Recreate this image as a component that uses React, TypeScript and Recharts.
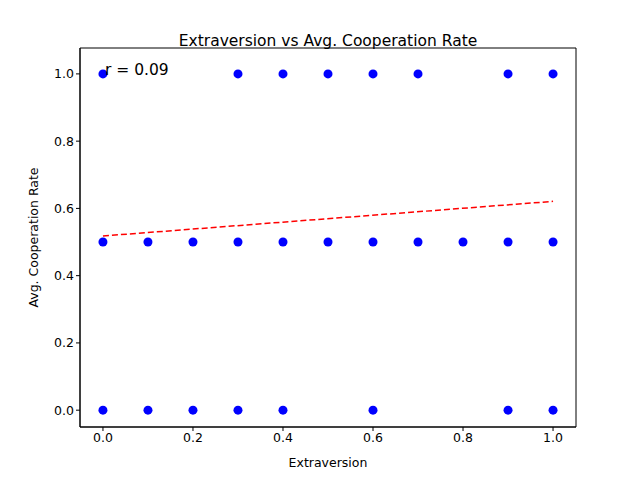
import React from 'react';
import { ComposedChart, Scatter, XAxis, YAxis, ReferenceLine, ReferenceArea, Label } from 'recharts';

const xHigh = [0, 0.3, 0.4, 0.5, 0.6, 0.7, 0.9, 1.0];
const xMid = [0, 0.1, 0.2, 0.3, 0.4, 0.5, 0.6, 0.7, 0.8, 0.9, 1.0];
const xLow = [0, 0.1, 0.2, 0.3, 0.4, 0.6, 0.9, 1.0];
const trendX = [0, 1];
const trendY = [0.518, 0.621];
const xTicks = [0, 0.2, 0.4, 0.6, 0.8, 1.0];
const yTicks = [0, 0.2, 0.4, 0.6, 0.8, 1.0];

const points = [
  ...xHigh.map((x) => ({ x, y: 1 })),
  ...xMid.map((x) => ({ x, y: 0.5 })),
  ...xLow.map((x) => ({ x, y: 0 })),
];

const font = 'DejaVu Sans';
const tickStyle = { fontSize: 12.5, fill: '#000', fontFamily: font };

const Dot = (p: any) => <circle cx={p.cx} cy={p.cy} r={4.5} fill="#0000ff" />;

export default function App() {
  return (
    <div style={{ position: 'absolute', left: 0, top: 0, width: 640, height: 480, background: '#fff', fontFamily: font }}>
      <ComposedChart width={640} height={480} margin={{ top: 48, right: 64, bottom: 0, left: 20 }}>
        <XAxis type="number" dataKey="x" domain={[-0.051, 1.051]} ticks={xTicks} tickFormatter={(v: number) => v.toFixed(1)}
          tick={tickStyle} tickSize={4} stroke="#000" height={53} allowDataOverflow>
          <Label value="Extraversion" position="insideBottom" offset={13} style={{ fontSize: 12.5, fill: '#000', fontFamily: font }} />
        </XAxis>
        <YAxis type="number" dataKey="y" domain={[-0.05, 1.077]} ticks={yTicks} tickFormatter={(v: number) => v.toFixed(1)}
          tick={tickStyle} tickSize={4} stroke="#000" width={60} allowDataOverflow>
          <Label value="Avg. Cooperation Rate" angle={-90} position="insideLeft" offset={14} style={{ fontSize: 12.5, fill: '#000', fontFamily: font, textAnchor: 'middle' }} />
        </YAxis>
        <ReferenceArea x1={-0.051} x2={1.051} y1={-0.05} y2={1.077} fill="none" stroke="#000" strokeWidth={1} />
        <ReferenceLine segment={[{ x: trendX[0], y: trendY[0] }, { x: trendX[1], y: trendY[1] }]} stroke="#ff0000" strokeWidth={1.5} strokeDasharray="6 3" />
        <Scatter data={points} shape={Dot} isAnimationActive={false} />
      </ComposedChart>
      <div style={{ position: 'absolute', left: 0, width: 656, top: 32, textAlign: 'center', fontSize: 15.5 }}>Extraversion vs Avg. Cooperation Rate</div>
      <div style={{ position: 'absolute', left: 105, top: 61, fontSize: 15.5 }}>r = 0.09</div>
    </div>
  );
}
